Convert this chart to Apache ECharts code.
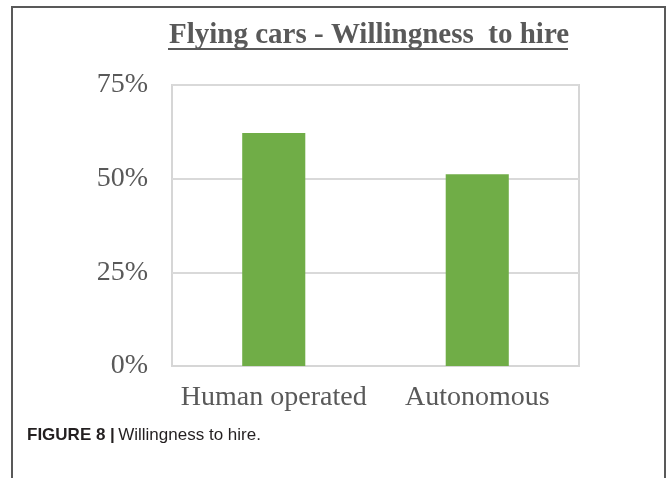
<!DOCTYPE html>
<html>
<head>
<meta charset="utf-8">
<script src="https://cdn.jsdelivr.net/npm/echarts@6/dist/echarts.min.js"></script>
<style>html,body{margin:0;padding:0;background:#fff;}#c{width:670px;height:478px;}</style>
</head>
<body>
<div id="c"></div>
<script>
var categories = ['Human operated', 'Autonomous'];
var values = [62.2, 51.2];
var yTicks = [0, 25, 50, 75];
var titleText = 'Flying cars - Willingness  to hire';

var chart = echarts.init(document.getElementById('c'), null, {renderer: 'canvas'});
chart.setOption({
  animation: false,
  backgroundColor: '#ffffff',
  title: {
    text: titleText,
    left: 164,
    top: 16,
    textStyle: {
      fontFamily: 'Liberation Serif',
      fontWeight: 'bold',
      fontSize: 29,
      color: '#595959'
    }
  },
  grid: {
    left: 172, right: 91, top: 85, bottom: 112,
    show: true,
    borderColor: '#d6d6d6',
    borderWidth: 2,
    containLabel: false
  },
  xAxis: {
    type: 'category',
    data: categories,
    axisLine: {show: true, lineStyle: {color: '#d6d6d6', width: 2}},
    axisTick: {show: false},
    axisLabel: {
      interval: 0,
      fontFamily: 'Liberation Serif',
      fontSize: 28,
      color: '#595959',
      margin: 18
    }
  },
  yAxis: {
    type: 'value',
    min: yTicks[0],
    max: yTicks[yTicks.length - 1],
    interval: 25,
    axisLine: {show: false},
    axisTick: {show: false},
    splitLine: {show: true, lineStyle: {color: '#d9d9d9', width: 2}},
    axisLabel: {
      fontFamily: 'Liberation Serif',
      fontSize: 28,
      color: '#595959',
      margin: 24,
      formatter: function (v) { return v + '%'; }
    }
  },
  series: [{
    type: 'bar',
    data: values,
    barWidth: '31%',
    itemStyle: {color: '#70AD47'}
  }],
  graphic: [
    {
      type: 'polyline',
      shape: {points: [[12, 478], [12, 7], [665, 7], [665, 478]]},
      style: {stroke: '#595959', lineWidth: 2, fill: null}
    },
    {
      type: 'line',
      shape: {x1: 168, y1: 49, x2: 568, y2: 49},
      style: {stroke: '#595959', lineWidth: 2}
    },
    {
      type: 'text',
      left: 27,
      top: 427,
      style: {
        text: '{b|FIGURE 8 |} {n|Willingness to hire.}',
        rich: {
          b: {fontFamily: 'Liberation Sans', fontWeight: 'bold', fontSize: 17, fill: '#231f20'},
          n: {fontFamily: 'Liberation Sans', fontSize: 17, fill: '#231f20'}
        }
      }
    }
  ]
});
</script>
</body>
</html>
